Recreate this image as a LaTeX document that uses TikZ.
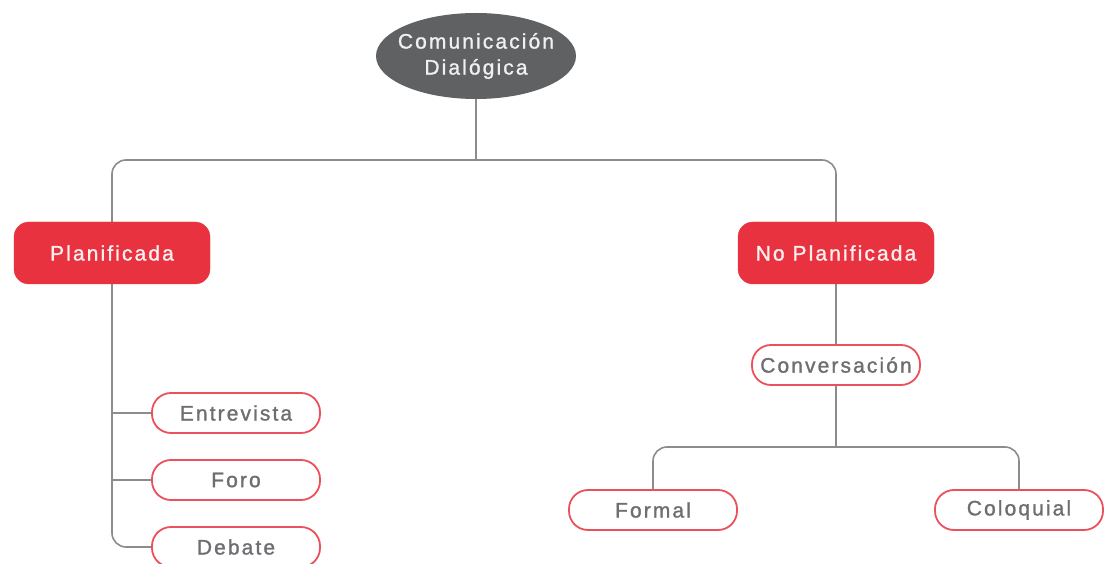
\documentclass[tikz,border=0pt]{standalone}
\usepackage{fontspec}
\setmainfont{Liberation Sans}[LetterSpace=10,FakeBold=1.2]
\usetikzlibrary{shapes.geometric}
\pgfdeclarelayer{bg}
\pgfsetlayers{bg,main}
\definecolor{redfill}{HTML}{E8323F}
\definecolor{darkell}{HTML}{606163}
\definecolor{txtgray}{HTML}{6D6E71}
\definecolor{linegray}{HTML}{8C8C8C}
\tikzset{
  conn/.style={draw=linegray, line width=1.6pt, rounded corners=14pt},
  redbox/.style={rectangle, rounded corners=15pt, fill=redfill, draw=redfill, text=white!92!redfill,
    minimum width=196pt, minimum height=62pt, font=\fontsize{21}{24}\selectfont},
  outbox/.style={rectangle, rounded corners=19pt, fill=white, draw=redfill!85!white, line width=1.8pt,
    text=txtgray, minimum width=168pt, minimum height=40pt, font=\fontsize{21}{24}\selectfont},
  topell/.style={ellipse, fill=darkell, text=white!88!gray, minimum width=200pt, minimum height=86pt,
    inner xsep=-16pt, inner ysep=-2pt, align=center, font=\fontsize{21}{26}\selectfont}
}
\begin{document}
\begin{tikzpicture}[x=1pt,y=-1pt]
\useasboundingbox (0,0) rectangle (1117,564);
\begin{scope}
\clip (0,0) rectangle (1117,564);
\node[topell] (top) at (476,56) {Comunicación\\Dialógica};
\node[redbox] (plan) at (112,253) {Planificada};
\node[redbox] (noplan) at (836,253) {No Planificada};
\node[outbox] (conv) at (836,365) {Conversación};
\node[outbox] (entr) at (236,413) {Entrevista};
\node[outbox] (foro) at (236,480) {Foro};
\node[outbox] (deb) at (236,547) {Debate};
\node[outbox] (formal) at (653,510) {Formal};
\node[outbox] (colo) at (1019,510) {Coloquial};
\coordinate (j1) at (top.south |- 0,160);
\coordinate (j2) at (conv.south |- 0,447);
\begin{pgfonlayer}{bg}
\draw[conn] (top.south) -- (j1);
\draw[conn] (plan.north) |- (j1) -| (noplan.north);
\draw[conn] (plan.south) |- (deb.west);
\draw[conn] (plan.south |- entr.west) -- (entr.west);
\draw[conn] (plan.south |- foro.west) -- (foro.west);
\draw[conn] (noplan.south) -- (conv.north);
\draw[conn] (conv.south) -- (j2);
\draw[conn] (formal.north) |- (j2) -| (colo.north);
\end{pgfonlayer}
\end{scope}
\end{tikzpicture}
\end{document}
